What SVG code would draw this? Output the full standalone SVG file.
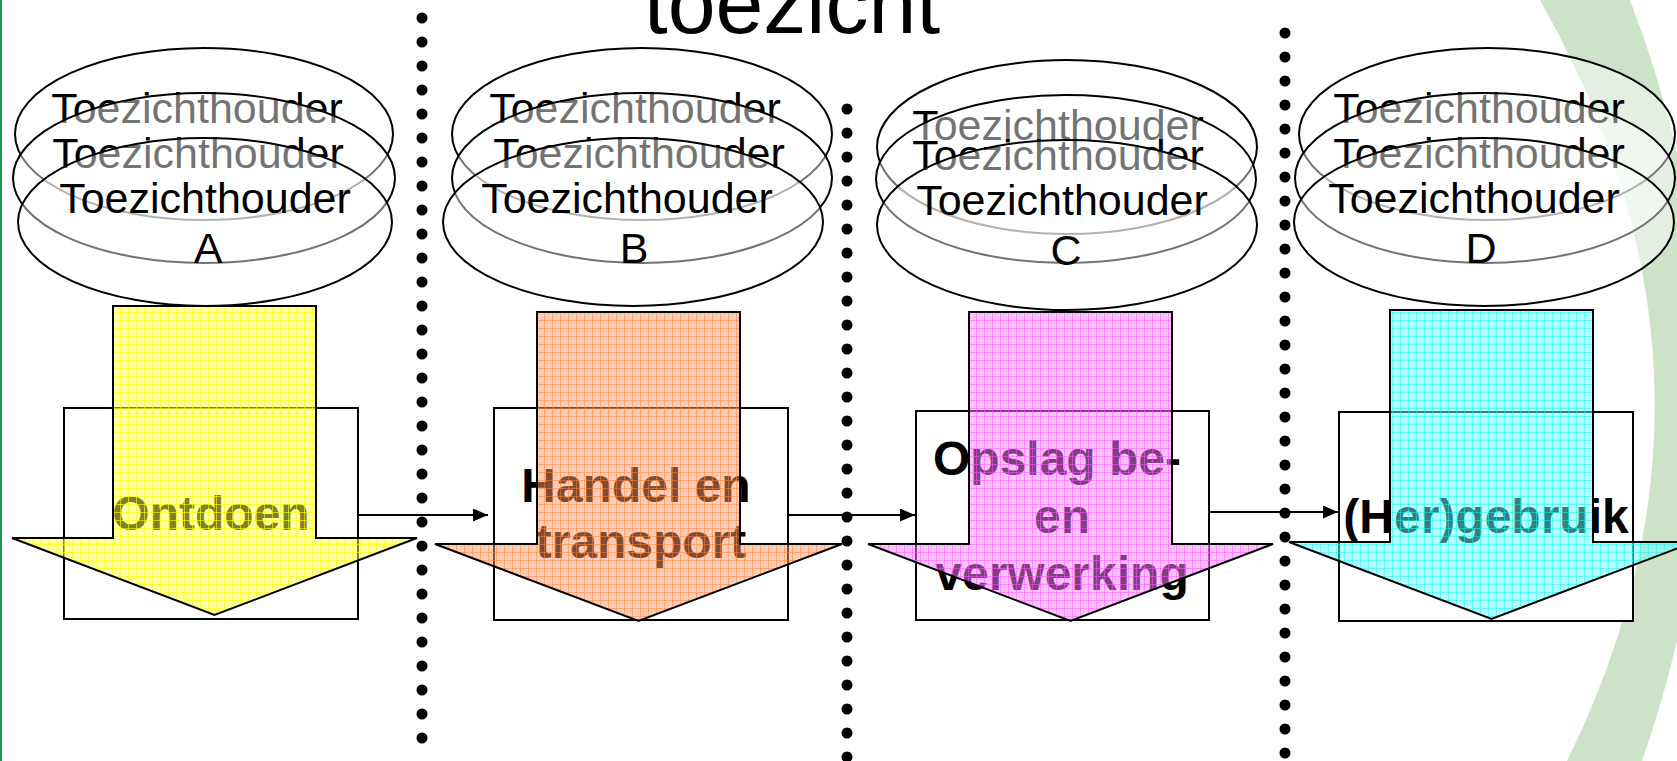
<svg xmlns="http://www.w3.org/2000/svg" width="1677" height="761" viewBox="0 0 1677 761">
<style>
.ell{fill:#fff;fill-opacity:.45;stroke:#000;stroke-width:2}
.th{font-family:"Liberation Sans",Arial,sans-serif;font-size:43px;text-anchor:middle;fill:#000}
.box{fill:#fff;stroke:#000;stroke-width:2}
.lbl{font-family:"Liberation Sans",Arial,sans-serif;font-weight:bold;font-size:48px;text-anchor:middle;fill:#000}
.arr{stroke:#000;stroke-width:2}
.dots{stroke:#000;stroke-width:11;stroke-linecap:round;stroke-dasharray:0 24;fill:none}
.conn{stroke:#000;stroke-width:2;fill:none;marker-end:url(#ah)}
</style>
<defs>
<marker id="ah" markerUnits="userSpaceOnUse" markerWidth="15" markerHeight="13" refX="15" refY="6.5" orient="auto"><path d="M0,0L15,6.5L0,13Z" fill="#000"/></marker>
<pattern id="pY" width="8" height="8" patternUnits="userSpaceOnUse"><rect width="8" height="8" fill="#ffff55" fill-opacity=".5"/><path d="M0 .5H8M.5 0V8" stroke="#ffff00" stroke-opacity=".6"/></pattern>
<pattern id="pO" width="8" height="8" patternUnits="userSpaceOnUse"><rect width="8" height="8" fill="#ff9966" fill-opacity=".5"/><path d="M0 .5H8M.5 0V8" stroke="#ff8040" stroke-opacity=".5"/></pattern>
<pattern id="pP" width="8" height="8" patternUnits="userSpaceOnUse"><rect width="8" height="8" fill="#ff80ff" fill-opacity=".5"/><path d="M0 .5H8M.5 0V8" stroke="#ff55ff" stroke-opacity=".5"/></pattern>
<pattern id="pC" width="8" height="8" patternUnits="userSpaceOnUse"><rect width="8" height="8" fill="#66ffff" fill-opacity=".5"/><path d="M0 .5H8M.5 0V8" stroke="#22eeee" stroke-opacity=".5"/></pattern>
</defs>
<rect width="1677" height="761" fill="#fff"/>
<path d="M1540,0 L1630,0 Q1775,380 1642,761 L1567,761 Q1755,380 1540,0 Z" fill="#cde3c8"/>
<rect x="0" y="0" width="2" height="761" fill="#1a9c4a"/>
<text x="792" y="33" font-family="Liberation Sans, Arial, sans-serif" font-size="86" text-anchor="middle" fill="#000">toezicht</text>

<g id="node-A">
<ellipse class="ell" cx="204" cy="134" rx="189" ry="86"/>
<text class="th" x="197" y="123">Toezichthouder</text>
<ellipse class="ell" cx="204" cy="178" rx="191" ry="85"/>
<text class="th" x="198" y="168">Toezichthouder</text>
<ellipse class="ell" cx="205" cy="222" rx="187" ry="84"/>
<text class="th" x="205" y="213">Toezichthouder</text>
<text class="th" x="208" y="263">A</text>
<rect class="box" x="64" y="408" width="294" height="211"/>
<text class="lbl" x="211" y="530">Ontdoen</text>
<polygon class="arr" fill="url(#pY)" points="113,306 316,306 316,538 417,538 214.5,615 12,538 113,538"/>
</g>

<g id="node-B">
<ellipse class="ell" cx="642" cy="134" rx="190" ry="86"/>
<text class="th" x="635" y="123">Toezichthouder</text>
<ellipse class="ell" cx="642" cy="178" rx="190" ry="85"/>
<text class="th" x="639" y="168">Toezichthouder</text>
<ellipse class="ell" cx="633" cy="222" rx="190" ry="84"/>
<text class="th" x="627" y="213">Toezichthouder</text>
<text class="th" x="634" y="263">B</text>
<rect class="box" x="494" y="408" width="294" height="212"/>
<text class="lbl" x="636" y="502">Handel en</text>
<text class="lbl" x="641" y="558">transport</text>
<polygon class="arr" fill="url(#pO)" points="537,312 740,312 740,544 842,544 638.5,621 435,544 537,544"/>
</g>

<g id="node-C">
<ellipse class="ell" cx="1067" cy="147" rx="190" ry="87"/>
<text class="th" x="1058" y="140">Toezichthouder</text>
<ellipse class="ell" cx="1066" cy="179" rx="190" ry="84"/>
<text class="th" x="1058" y="170">Toezichthouder</text>
<ellipse class="ell" cx="1067" cy="225" rx="190" ry="85"/>
<text class="th" x="1062" y="215">Toezichthouder</text>
<text class="th" x="1066" y="265">C</text>
<rect class="box" x="916" y="411" width="293" height="209"/>
<text class="lbl" x="1057" y="475">Opslag be-</text>
<text class="lbl" x="1062" y="533">en</text>
<text class="lbl" x="1062" y="590">verwerking</text>
<polygon class="arr" fill="url(#pP)" points="969,312 1172,312 1172,544 1273,544 1070.5,621 868,544 969,544"/>
</g>

<g id="node-D">
<ellipse class="ell" cx="1487" cy="134" rx="188" ry="86"/>
<text class="th" x="1479" y="123">Toezichthouder</text>
<ellipse class="ell" cx="1485" cy="178" rx="190" ry="85"/>
<text class="th" x="1479" y="168">Toezichthouder</text>
<ellipse class="ell" cx="1484" cy="222" rx="190" ry="84"/>
<text class="th" x="1474" y="213">Toezichthouder</text>
<text class="th" x="1481" y="263">D</text>
<rect class="box" x="1339" y="412" width="294" height="209"/>
<text class="lbl" x="1486" y="533">(Her)gebruik</text>
<polygon class="arr" fill="url(#pC)" points="1390,310 1593,310 1593,542 1694,542 1491.5,619 1289,542 1390,542"/>
</g>

<g id="connectors">
<line class="conn" x1="359" y1="515" x2="488" y2="515"/>
<line class="conn" x1="789" y1="515" x2="915" y2="515"/>
<line class="conn" x1="1210" y1="512" x2="1338" y2="512"/>
</g>

<g id="dividers">
<line class="dots" x1="422" y1="18" x2="422" y2="739"/>
<line class="dots" x1="847" y1="109" x2="847" y2="758"/>
<line class="dots" x1="1285" y1="33" x2="1285" y2="754"/>
</g>
</svg>
